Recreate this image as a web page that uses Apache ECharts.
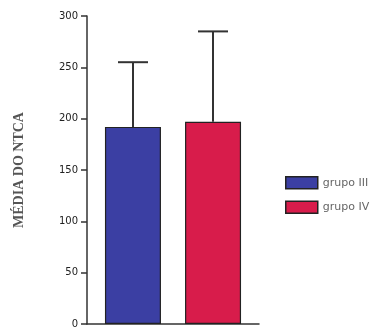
<!DOCTYPE html>
<html><head><meta charset="utf-8">
<script src="https://cdn.jsdelivr.net/npm/echarts@6/dist/echarts.min.js"></script>
<style>html,body{margin:0;padding:0;background:#fff}#c{width:381px;height:329px}</style>
</head><body><div id="c"></div>
<script>
var groups = ['grupo III', 'grupo IV'];
var means = [192, 197];
var sdUpper = [63, 88];
var yTicks = [0, 50, 100, 150, 200, 250, 300];
var colors = ['#3b3fa3', '#d81c4b'];

var chart = echarts.init(document.getElementById('c'), null, {renderer: 'canvas'});
var barSeries = groups.map(function (g, i) {
  return {
    name: g, type: 'bar', data: [means[i]], barWidth: 56, barGap: '43%',
    itemStyle: {color: colors[i], borderColor: '#222', borderWidth: 1.2}
  };
});
var errData = groups.map(function (g, i) { return [0, means[i], means[i] + sdUpper[i]]; });
chart.setOption({
  animation: false,
  grid: {left: 87, top: 16, right: 122, bottom: 4},
  legend: {
    data: groups, orient: 'vertical', left: 280, top: 171, itemWidth: 32, itemHeight: 12,
    itemGap: 11, icon: 'rect',
    itemStyle: {borderColor: '#222', borderWidth: 1.5},
    textStyle: {fontSize: 11, color: '#666', fontFamily: 'DejaVu Sans'}
  },
  xAxis: {
    type: 'category', data: [''], axisTick: {show: false}, axisLabel: {show: false},
    axisLine: {lineStyle: {color: '#333', width: 1.5}}
  },
  yAxis: {
    type: 'value', min: yTicks[0], max: yTicks[yTicks.length - 1], interval: 50,
    name: 'MÉDIA DO NTCA', nameLocation: 'middle', nameGap: 61,
    nameTextStyle: {fontFamily: 'Liberation Serif', fontWeight: 'bold', fontSize: 14, color: '#555'},
    axisLine: {show: true, lineStyle: {color: '#333', width: 1.5}},
    axisTick: {show: true, length: 6, lineStyle: {color: '#333', width: 1.5}},
    splitLine: {show: false},
    axisLabel: {fontSize: 10, color: '#222', fontFamily: 'DejaVu Sans', margin: 9}
  },
  series: barSeries.concat([{
    type: 'custom', z: 5, data: errData,
    renderItem: function (params, api) {
      var off = params.dataIndex === 0 ? -40 : 40;
      var b = api.coord([api.value(0), api.value(1)]);
      var t = api.coord([api.value(0), api.value(2)]);
      var x = b[0] + off;
      var st = {stroke: '#333', lineWidth: 2};
      return {type: 'group', children: [
        {type: 'line', shape: {x1: x, y1: b[1], x2: x, y2: t[1]}, style: st},
        {type: 'line', shape: {x1: x - 15, y1: t[1], x2: x + 15, y2: t[1]}, style: st}
      ]};
    }
  }])
});
</script></body></html>
